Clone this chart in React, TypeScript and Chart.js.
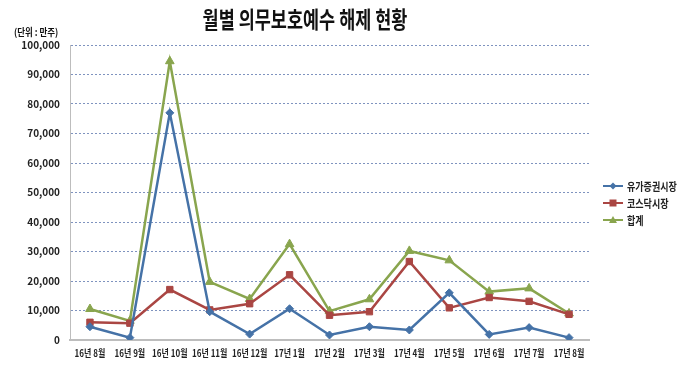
import React, { useEffect, useRef } from "react";
import { Chart, registerables } from "chart.js";

Chart.register(...registerables);

const categories = ["16년 8월", "16년 9월", "16년 10월", "16년 11월", "16년 12월", "17년 1월", "17년 2월", "17년 3월", "17년 4월", "17년 5월", "17년 6월", "17년 7월", "17년 8월"];
const kospi = [4500, 800, 77000, 9600, 2000, 10600, 1700, 4500, 3400, 16000, 1900, 4200, 800];
const kosdaq = [6000, 5700, 17100, 10200, 12300, 22100, 8400, 9600, 26600, 10900, 14400, 13100, 8700];
const total = [10500, 6500, 94500, 19700, 13900, 32500, 9800, 13800, 30200, 27000, 16400, 17500, 9000];
const seriesNames = ["유가증권시장", "코스닥시장", "합계"];
const titleText = "월별 의무보호예수 해제 현황";
const unitText = "(단위 : 만주)";

const colors = ["#4572A7", "#AA4643", "#89A54E"];
const styles = ["rectRot", "rect", "triangle"];
const FONT = "'Noto Sans CJK KR', 'Noto Sans', sans-serif";

function drawText(ctx: any, text: string, x: number, y: number, font: string, sx: number, align: string) {
  ctx.save();
  ctx.font = font;
  ctx.textAlign = align;
  ctx.textBaseline = "middle";
  ctx.translate(x, y);
  ctx.scale(sx, 1);
  ctx.fillText(text, 0, 0);
  ctx.restore();
}

const overlay = {
  id: "overlay",
  afterDraw(chart: any) {
    const ctx = chart.ctx;
    ctx.save();
    ctx.fillStyle = "#111";
    drawText(ctx, titleText, 305, 19, `bold 23px ${FONT}`, 0.76, "center");
    drawText(ctx, unitText, 14, 32, `bold 10px ${FONT}`, 0.85, "left");
    // x labels
    const xs = chart.scales.x;
    ctx.fillStyle = "#222";
    categories.forEach((c, i) => {
      drawText(ctx, c, xs.getPixelForValue(i), 353, `bold 10px ${FONT}`, 0.8, "center");
    });
    // legend
    const lx = 603;
    const ly = [186, 203, 220];
    for (let i = 0; i < 3; i++) {
      const y = ly[i];
      ctx.strokeStyle = colors[i];
      ctx.lineWidth = 2;
      ctx.beginPath();
      ctx.moveTo(lx, y);
      ctx.lineTo(lx + 20, y);
      ctx.stroke();
      ctx.fillStyle = colors[i];
      const cx = lx + 10;
      ctx.beginPath();
      if (i === 0) {
        ctx.moveTo(cx, y - 3.5); ctx.lineTo(cx + 3.5, y); ctx.lineTo(cx, y + 3.5); ctx.lineTo(cx - 3.5, y);
      } else if (i === 1) {
        ctx.rect(cx - 3.5, y - 3.5, 7, 7);
      } else {
        ctx.moveTo(cx, y - 4); ctx.lineTo(cx + 4, y + 3); ctx.lineTo(cx - 4, y + 3);
      }
      ctx.closePath();
      ctx.fill();
      ctx.fillStyle = "#222";
      drawText(ctx, seriesNames[i], lx + 24, y + 1, `bold 11px ${FONT}`, 0.82, "left");
    }
    ctx.restore();
  },
};

export default function App() {
  const ref = useRef<HTMLCanvasElement>(null);
  useEffect(() => {
    const data = [kospi, kosdaq, total];
    const chart = new Chart(ref.current!, {
      type: "line",
      data: {
        labels: categories,
        datasets: data.map((d, i) => ({
          label: seriesNames[i],
          data: d,
          borderColor: colors[i],
          backgroundColor: colors[i],
          borderWidth: 2.5,
          pointStyle: styles[i] as any,
          pointRadius: i === 0 ? 4 : i === 1 ? 4.5 : 5,
          pointBorderWidth: 1,
          pointBorderColor: colors[i],
          tension: 0,
        })),
      },
      options: {
        animation: false,
        responsive: false,
        maintainAspectRatio: false,
        layout: { padding: { top: 45, right: 91, left: 0, bottom: 27 } },
        plugins: {
          legend: { display: false },
          tooltip: { enabled: false },
          title: { display: false },
        },
        scales: {
          x: {
            offset: true,
            grid: { display: false, drawTicks: false },
            border: { display: true, color: "#bdbdbd", width: 2 },
            ticks: { display: false },
          },
          y: {
            min: 0,
            max: 100000,
            afterFit(scale: any) { scale.width = 70; },
            ticks: {
              stepSize: 10000,
              color: "#222",
              padding: 10,
              font: { family: FONT, size: 10, weight: "bold" },
              callback: (v: any) => Number(v).toLocaleString("en-US"),
            },
            grid: {
              drawTicks: false,
              color: (c: any) => (c.tick.value === 0 ? "rgba(0,0,0,0)" : "#7f93bf"),
              lineWidth: 1,
            },
            border: { display: true, color: "#bdbdbd", width: 1 },
          },
        },
      } as any,
      plugins: [overlay],
    });
    (chart.options.scales as any).y.border.dash = [2, 2];
    chart.update();
    return () => chart.destroy();
  }, []);
  return (
    <div style={{ position: "fixed", left: 0, top: 0, width: 680, height: 367, background: "#fff" }}>
      <canvas ref={ref} width={680} height={367} style={{ width: 680, height: 367 }} />
    </div>
  );
}
